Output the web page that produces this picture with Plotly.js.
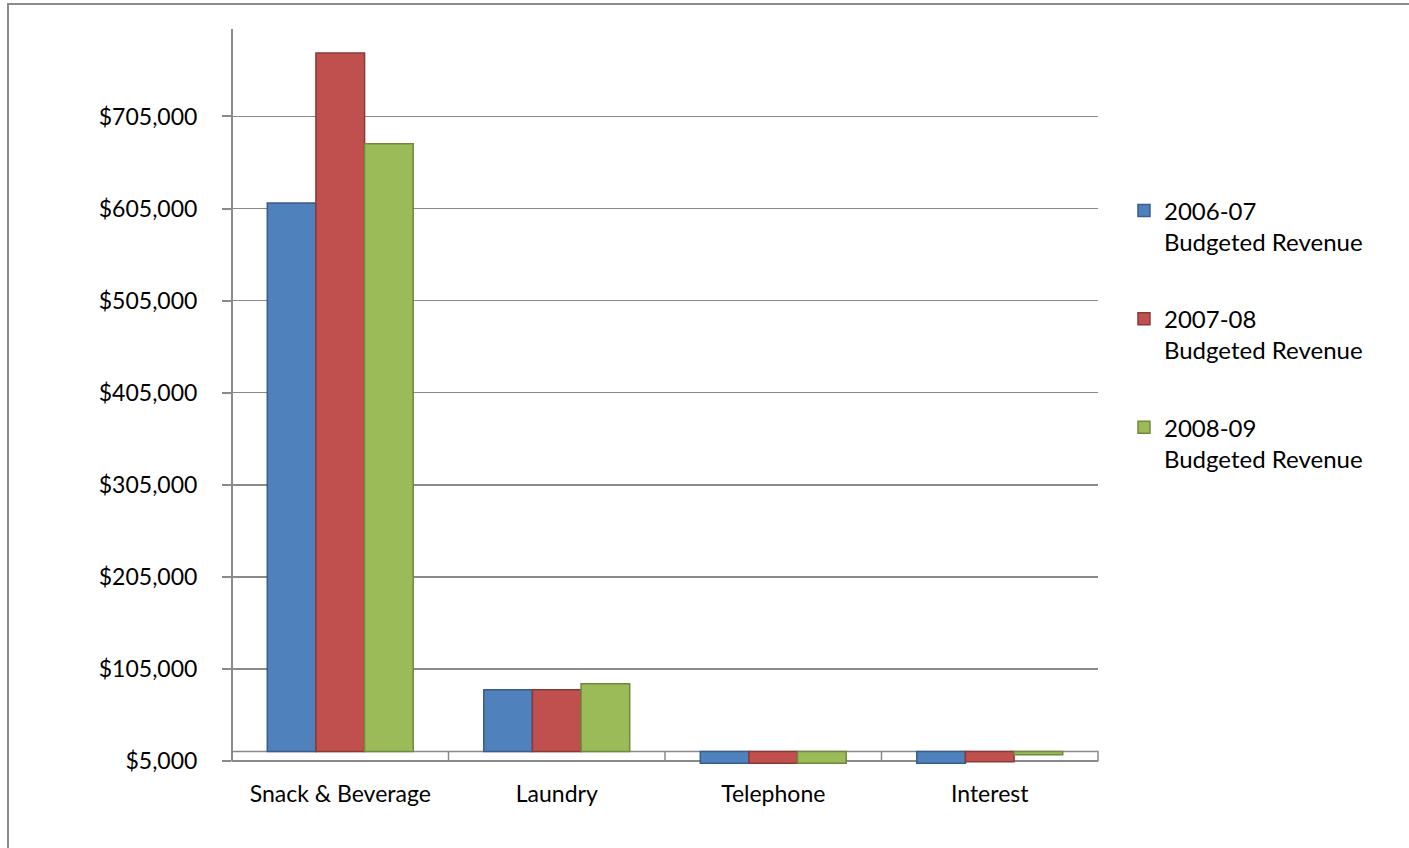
<!DOCTYPE html>
<html>
<head>
<meta charset="utf-8">
<script src="https://cdn.plot.ly/plotly-3.0.1.min.js"></script>
<style>
  html, body { margin: 0; padding: 0; background: #ffffff; overflow: hidden; width: 1409px; height: 848px; }
  #frame { position: absolute; left: 7px; top: 3px; width: 2000px; height: 2000px; border: 2px solid #8c8c8c; box-sizing: border-box; }
  #chart { position: absolute; left: 0; top: 0; width: 1409px; height: 848px; }
</style>
</head>
<body>
<div id="frame"></div>
<div id="chart"></div>
<script>
// ---- data ----
const categories = ['Snack & Beverage', 'Laundry', 'Telephone', 'Interest'];
const seriesNames = ['2006-07<br>Budgeted Revenue', '2007-08<br>Budgeted Revenue', '2008-09<br>Budgeted Revenue'];
const rev2006_07 = [610900, 82200, 2200, 2200];
const rev2007_08 = [773900, 82200, 2200, 3900];
const rev2008_09 = [675300, 88700, 2200, 11500];
const floorValue = 15000;      // level where the columns start (top of the floor band)
const axisMin = 5000;          // lowest labelled value
const axisStep = 100000;

const fills = ['#4f81bd', '#c0504d', '#9bbb59'];
const edges = ['#385d8a', '#8c3836', '#71893f'];
const allSeries = [rev2006_07, rev2007_08, rev2008_09];

const FONT = 'Lato, "Open Sans", sans-serif';

const traces = allSeries.map((vals, i) => ({
  type: 'bar',
  name: seriesNames[i],
  legendgroup: 'g' + i,
  x: categories,
  base: vals.map(() => floorValue),
  y: vals.map(v => v - floorValue),
  marker: { color: fills[i], line: { color: edges[i], width: 1.5 } },
  hoverinfo: 'skip'
}));

// floor band and axis line decorations
const shapes = [
  { type: 'line', xref: 'paper', yref: 'y', x0: 0, x1: 0, y0: axisMin, y1: 800000,
    line: { color: '#8a8a8a', width: 2 }, layer: 'below' },
  { type: 'rect', xref: 'paper', yref: 'y', x0: 0, x1: 1, y0: axisMin, y1: floorValue,
    line: { color: '#8a8a8a', width: 1.5 }, fillcolor: 'rgba(0,0,0,0)', layer: 'below' }
];
for (let k = 0; k < categories.length - 1; k++) {
  shapes.push({ type: 'line', xref: 'x', yref: 'y', x0: k + 0.5, x1: k + 0.5, y0: axisMin, y1: floorValue,
    line: { color: '#8a8a8a', width: 1.5 }, layer: 'below' });
}

const layout = {
  width: 1409, height: 848,
  margin: { l: 232, r: 311, t: 29.3, b: 78.1 },
  paper_bgcolor: 'rgba(0,0,0,0)',
  plot_bgcolor: 'rgba(0,0,0,0)',
  font: { family: FONT, size: 23, color: '#000000' },
  barmode: 'group',
  bargap: 0.326,
  bargroupgap: 0,
  showlegend: true,
  legend: {
    x: 1.03, xanchor: 'left', y: 0.785, yanchor: 'top',
    valign: 'top', tracegroupgap: 43,
    font: { family: FONT, size: 24, color: '#000000' },
    bgcolor: 'rgba(0,0,0,0)'
  },
  xaxis: {
    type: 'category',
    range: [-0.5, 3.5],
    showgrid: false, zeroline: false, showline: false,
    ticks: '', ticklabelstandoff: 8,
    tickfont: { family: FONT, size: 23, color: '#000000' },
    fixedrange: true
  },
  yaxis: {
    range: [-5000, 800000],
    tick0: axisMin, dtick: axisStep,
    tickprefix: '$', tickformat: ',d',
    showgrid: true, gridcolor: '#8a8a8a', gridwidth: 1.7,
    zeroline: false, showline: false,
    ticks: 'outside', ticklen: 9, tickwidth: 2, tickcolor: '#8a8a8a',
    ticklabelstandoff: 20,
    tickfont: { family: FONT, size: 23, color: '#000000' },
    fixedrange: true
  },
  shapes: shapes
};

Plotly.newPlot('chart', traces, layout, { staticPlot: true, displayModeBar: false });
</script>
</body>
</html>
